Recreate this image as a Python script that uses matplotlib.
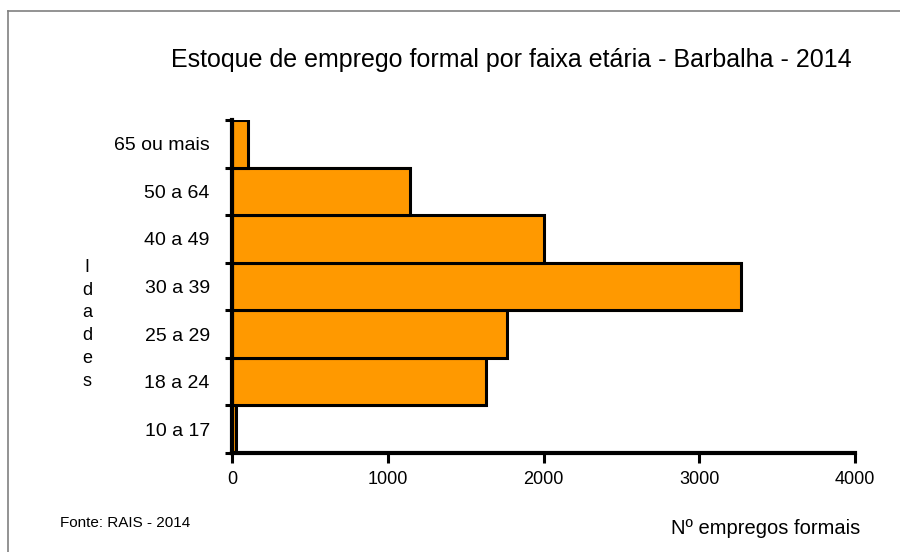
import matplotlib.pyplot as plt
from matplotlib.lines import Line2D
import numpy as np

plt.rcParams['font.family'] = ['Liberation Sans', 'DejaVu Sans']

# age groups, bottom to top
faixas = ["10 a 17", "18 a 24", "25 a 29", "30 a 39", "40 a 49", "50 a 64", "65 ou mais"]
empregos = [27, 1630, 1765, 3265, 2005, 1140, 105]
x_ticks = [0, 1000, 2000, 3000, 4000]

title = "Estoque de emprego formal por faixa etária - Barbalha - 2014"
orange = "#FF9900"

fig = plt.figure(figsize=(9, 5.52), dpi=100)
ax = fig.add_axes([0.2578, 0.1793, 0.6922, 0.6033])

pos = np.arange(len(faixas))
# orange fill slightly offset, like the shadowed original
ax.barh(pos - 0.01, empregos, height=1.0, color=orange, edgecolor=orange,
        linewidth=1.5, zorder=2)
ax.barh(pos, empregos, height=1.0, color=orange, edgecolor="black",
        linewidth=2.2, zorder=3)

ax.set_xlim(0, 4000)
ax.set_ylim(-0.5, len(faixas) - 0.5)
ax.set_xticks(x_ticks)
ax.set_xticklabels([str(v) for v in x_ticks], fontsize=13)

# tick marks at category boundaries, labels at centers
ax.set_yticks(np.arange(-0.5, len(faixas), 1.0))
ax.set_yticklabels([])
ax.set_yticks(pos, minor=True)
ax.set_yticklabels(faixas, minor=True, fontsize=14)
ax.tick_params(axis="y", which="major", length=5, width=2.2, color="black")
ax.tick_params(axis="y", which="minor", length=0, pad=16)
ax.tick_params(axis="x", length=7, width=2.2, pad=6)

for s in ["top", "right"]:
    ax.spines[s].set_visible(False)
for s in ["left", "bottom"]:
    ax.spines[s].set_linewidth(3)
    ax.spines[s].set_zorder(4)

fig.text(0.568, 0.891, title, ha="center", va="center", fontsize=18)

for i, ch in enumerate("Idades"):
    fig.text(0.097, 0.516 - i * 0.0415, ch, ha="center", va="center", fontsize=13)

fig.text(0.067, 0.052, "Fonte: RAIS - 2014", ha="left", va="center", fontsize=11)
fig.text(0.746, 0.043, "Nº empregos formais", ha="left", va="center", fontsize=14.5)

# outer frame (top and left edges visible)
fig.add_artist(Line2D([0.009, 0.009], [0.0, 0.98], transform=fig.transFigure,
                      color="#808080", lw=1.2))
fig.add_artist(Line2D([0.009, 1.0], [0.98, 0.98], transform=fig.transFigure,
                      color="#808080", lw=1.2))

fig.savefig("out.png", dpi=100)
